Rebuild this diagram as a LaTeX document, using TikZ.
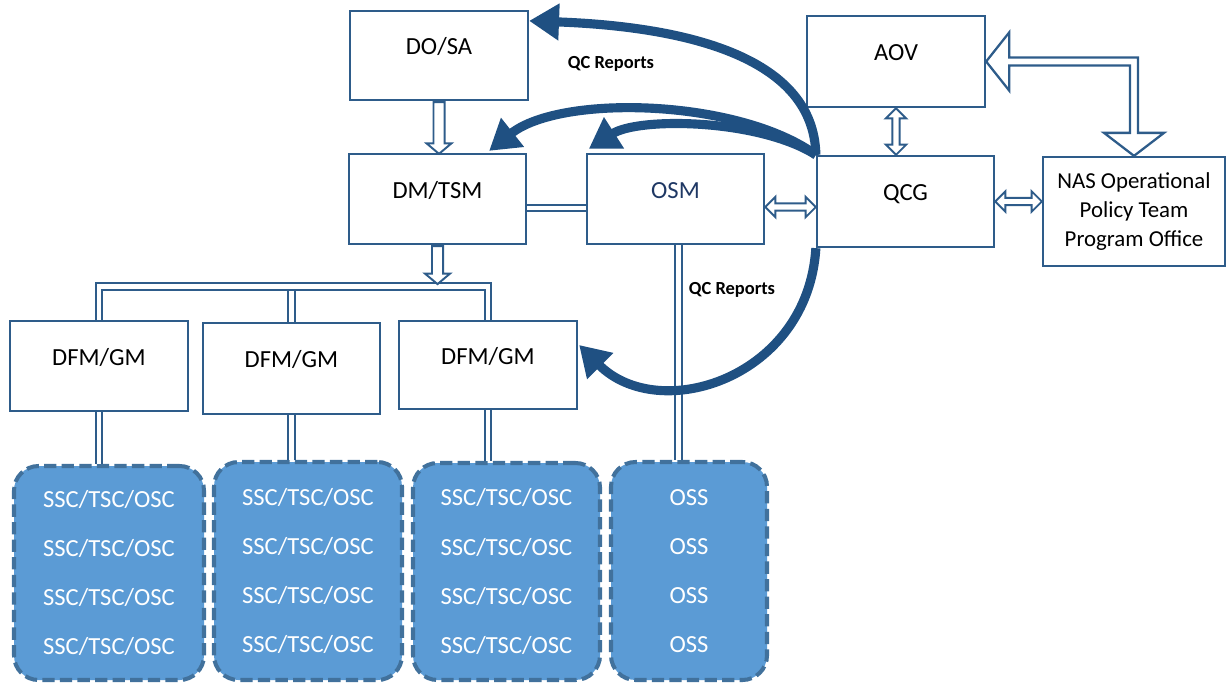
\documentclass[tikz,border=0pt]{standalone}
\usepackage{fontspec}
\setmainfont{Carlito}
\usetikzlibrary{arrows.meta,shapes.arrows,calc}
\definecolor{bc}{HTML}{2E5C8A}
\definecolor{ac}{HTML}{1F5082}
\definecolor{fillb}{HTML}{5B9BD5}
\definecolor{dashc}{HTML}{41719C}
\definecolor{osmc}{HTML}{1F3864}
\tikzset{
  box/.style 2 args={draw=bc, line width=1.3pt, fill=white, minimum width=#1*0.02cm, minimum height=#2*0.02cm, inner sep=0pt, font=\fontsize{14}{17}\selectfont},
  up/.style={text height=9pt, text depth=10pt},
  pool/.style 2 args={draw=dashc, fill=fillb, line width=2.3pt, dash pattern=on 7pt off 3pt, rounded corners=14pt, minimum width=#1*0.02cm, minimum height=#2*0.02cm, text=white, align=center, font=\fontsize{14}{27.9}\selectfont},
  dbl/.style={draw=bc, line width=1.1pt, double=white, double distance=2.8pt},
  hsingle/.style={shape=single arrow, draw=bc, fill=white, line width=1.1pt, minimum width=0pt, inner sep=2.6pt, single arrow head extend=4pt, single arrow tip angle=100},
  hdouble/.style={shape=double arrow, draw=bc, fill=white, line width=1.1pt, minimum width=0pt, inner sep=1.5pt, double arrow head extend=3.8pt, double arrow tip angle=90},
  qcarrow/.style={draw=ac, line width=5.2pt, -{Triangle[width=20pt,length=17pt]}},
  qc/.style={font=\fontsize{10.5}{12}\selectfont\bfseries},
  bigarrow/.style={draw=bc, line width=1.3pt, fill=white, line join=miter}
}
\newcommand\harrow[2]{\path let \p1=(#1), \p2=(#2), \n1={veclen(\x2-\x1,\y2-\y1)}, \n2={atan2(\y2-\y1,\x2-\x1)} in node[hsingle, minimum height=\n1, rotate=\n2, anchor=tail] at (\p1) {};}
\newcommand\darrow[2]{\path let \p1=(#1), \p2=(#2), \n1={veclen(\x2-\x1,\y2-\y1)}, \n2={atan2(\y2-\y1,\x2-\x1)} in node[hdouble, minimum height=\n1, rotate=\n2] at ($(\p1)!0.5!(\p2)$) {};}
\begin{document}
\begin{tikzpicture}[x=0.02cm, y=-0.02cm]
\useasboundingbox (0,0) rectangle (1227,683);
% boxes
\node[box={178}{89}, up] (dosa) at (439,55.5) {DO/SA};
\node[box={178}{91}, up] (aov) at (896,61.5) {AOV};
\node[box={177}{90}, up] (dm) at (437.5,199) {DM/TSM};
\node[box={177}{90}, up, text=osmc] (osm) at (675.5,199) {OSM};
\node[box={177}{91}, up] (qcg) at (905.5,201.5) {QCG};
\node[box={182}{109}, align=center, font=\fontsize{13}{16.5}\selectfont] (nas) at (1134,211.5) {NAS Operational\\Policy Team\\Program Office};
\node[box={178}{90}, up] (dfm1) at (99,366) {DFM/GM};
\node[box={177}{91}, up] (dfm2) at (291.5,368.5) {DFM/GM};
\node[box={178}{88}, up] (dfm3) at (488,365) {DFM/GM};
% pools
\node[pool={190}{214}] (ssc1) at (109,573) {SSC/TSC/OSC\\SSC/TSC/OSC\\SSC/TSC/OSC\\SSC/TSC/OSC};
\node[pool={188}{218}] (ssc2) at (308,571) {SSC/TSC/OSC\\SSC/TSC/OSC\\SSC/TSC/OSC\\SSC/TSC/OSC};
\node[pool={187}{217}] (ssc3) at (506.5,571.5) {SSC/TSC/OSC\\SSC/TSC/OSC\\SSC/TSC/OSC\\SSC/TSC/OSC};
\node[pool={156}{218}] (oss) at (689,571) {OSS\\OSS\\OSS\\OSS};
% labels
\node[qc] (qc1) at (611,64) {QC Reports};
\node[qc] (qc2) at (732,290) {QC Reports};
% bus
\coordinate (busc) at ($(dm.south)+(0,41.5)$);
\draw[dbl] (dfm2.north) -- (dfm2.north |- busc);
\draw[dbl] (dfm1.north) |- (busc) -| (dfm3.north);
\harrow{dm.south}{$(dm.south |- busc)+(0,-3.5)$}
% drops
\draw[dbl] (dfm1.south) -- (dfm1.south |- ssc1.north);
\draw[dbl] (dfm2.south) -- (dfm2.south |- ssc2.north);
\draw[dbl] (dfm3.south) -- (dfm3.south |- ssc3.north);
\draw[dbl] ($(osm.south)+(3,0)$) -- ($(osm.south |- oss.north)+(3,0)$);
\draw[dbl] ($(dm.east)+(0,9)$) -- ($(osm.west)+(0,9)$);
% hollow arrows
\harrow{dosa.south}{dosa.south |- dm.north}
\coordinate (oq1) at ($(osm.east)+(0,8)$);
\coordinate (oq2) at (qcg.west |- oq1);
\darrow{oq1}{oq2}
\darrow{aov.south}{aov.south |- qcg.north}
\darrow{qcg.east}{qcg.east -| nas.west}
% big bent arrow AOV <-> NAS
\coordinate (bt) at (aov.east);
\coordinate (bcn) at (nas.north |- aov.east);
\draw[bigarrow] (bt) -- ($(bt)+(23,-29)$) -- ($(bt)+(23,-4)$) -- ($(bcn)+(4,-4)$) -- ($(nas.north)+(4,-23)$) -- ($(nas.north)+(30,-23)$) -- (nas.north) -- ($(nas.north)+(-30,-23)$) -- ($(nas.north)+(-4,-23)$) -- ($(bcn)+(-4,4)$) -- ($(bt)+(23,4)$) -- ($(bt)+(23,29)$) -- cycle;
% QC report arrows
\draw[qcarrow] (qcg.north west) .. controls +(-2,-96) and +(162,6) .. ($(dosa.north east)+(0,11)$);
\draw[qcarrow] (qcg.north west) .. controls +(-77,-56) and +(72,-57) .. ($(dm.north east)+(-38,-2)$);
\draw[qcarrow] (qcg.north west) .. controls +(-57,-36) and +(50,-32) .. ($(osm.north west)+(3,-4)$);
\draw[qcarrow] (qcg.south west) .. controls +(-8,130) and +(80,80) .. ($(dfm3.east)+(1,-20)$);
\end{tikzpicture}
\end{document}
